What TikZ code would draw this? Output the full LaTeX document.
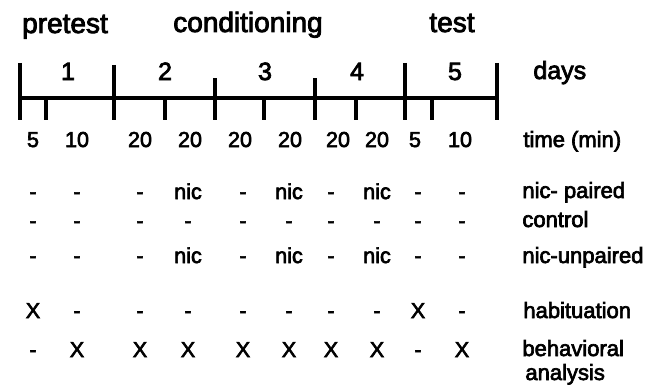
\documentclass[tikz,border=0pt]{standalone}
\usepackage{fontspec}
\setmainfont{Liberation Sans}[FakeBold=3]
\begin{document}
\begin{tikzpicture}[x=0.5pt,y=-0.5pt,
  phase/.style={font=\fontsize{14}{16}\selectfont, anchor=base, inner sep=0pt},
  day/.style={font=\fontsize{12.5}{15}\selectfont, anchor=base, inner sep=0pt},
  cell/.style={font=\fontsize{10.8}{12}\selectfont, anchor=base, inner sep=0pt},
  rowlabel/.style={font=\fontsize{11}{12}\selectfont, anchor=base west, inner sep=0pt},
  axis/.style={line width=2.2pt}]
  \useasboundingbox (0,0) rectangle (656,385);

  \node[phase] (pre) at (65,33) {pretest};
  \node[phase] (cond) at (248,32) {conditioning};
  \node[phase] (tst) at (452,32) {test};

  % time axis
  \draw[axis] (20,98) -- (498,98);
  \foreach \x/\top in {20/63,114/65,215/78,315/78,405/63,497/63}
    \draw[axis] (\x,\top) -- (\x,120);
  \foreach \x in {46,165,264,356,432}
    \draw[axis] (\x,98) -- (\x,120);

  \foreach \x/\d in {68/1,165/2,265/3,357/4,455/5}
    \node[day] (d\d) at (\x,80) {\d};
  \node[day, anchor=base west] (days) at (533,79) {days};

  \foreach \x/\t [count=\i] in {33/5,77/10,140/20,190/20,240/20,290/20,338/20,377/20,415/5,460/10}
    \node[cell] (t\i) at (\x,147) {\t};
  \node[rowlabel] (time) at (523,147) {time (min)};

  % groups and sessions
  \foreach \x/\a/\b/\c/\d/\e [count=\i] in {33/-/-/-/X/-, 77/-/-/-/-/X, 140/-/-/-/-/X,
      188/nic/-/nic/-/X, 243/-/-/-/-/X, 289/nic/-/nic/-/X, 331/-/-/-/-/X,
      377/nic/-/nic/-/X, 418/-/-/-/X/-, 462/-/-/-/-/X} {
    \node[cell] (p\i) at (\x,199) {\a};
    \node[cell] (c\i) at (\x,228) {\b};
    \node[cell] (u\i) at (\x,263) {\c};
    \node[cell] (h\i) at (\x,318) {\d};
    \node[cell] (b\i) at (\x,357) {\e};
  }

  \node[rowlabel] (paired) at (522,198) {nic- paired};
  \node[rowlabel] (ctrl) at (522,227) {control};
  \node[rowlabel] (unpaired) at (522,263) {nic-unpaired};
  \node[rowlabel] (hab) at (523,318) {habituation};
  \node[rowlabel] (beh) at (522,356) {behavioral};
  \node[rowlabel] (ana) at (525,380) {analysis};

\end{tikzpicture}
\end{document}
